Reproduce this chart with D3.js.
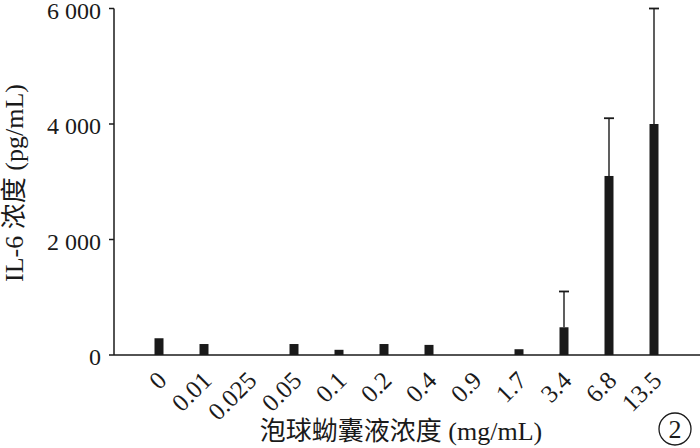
<!DOCTYPE html>
<html><head><meta charset="utf-8">
<script src="https://d3js.org/d3.v7.min.js"></script>
<style>body{margin:0;background:#fff}svg{display:block}</style>
</head><body>
<script>
const categories = ["0","0.01","0.025","0.05","0.1","0.2","0.4","0.9","1.7","3.4","6.8","13.5"];
const values = [290,190,0,190,90,190,175,0,100,480,3100,4000];
const errors = [0,0,0,0,0,0,0,0,0,620,1000,2000];
const yTicks = [0,2000,4000,6000];

const W=700,H=448;
const svg=d3.select("body").append("svg").attr("width",W).attr("height",H);
const x0=114, xEnd=700, y0=355, yTop=8.5;
const x=d3.scalePoint().domain(categories).range([159,654]);
const bw=9;
const y=d3.scaleLinear().domain([0,6000]).range([y0,yTop]);
const font="'Liberation Serif','Times New Roman','Noto Sans CJK SC',serif";
const ink="#1a1a1a";

// bars
svg.selectAll("rect.bar").data(categories).join("rect")
 .attr("x",d=>x(d)-bw/2).attr("width",bw)
 .attr("y",(d,i)=>y(values[i])).attr("height",(d,i)=>y0-y(values[i]))
 .attr("fill",ink);

// error bars
const eb=categories.map((c,i)=>({c,v:values[i],e:errors[i]})).filter(d=>d.e>0);
svg.selectAll("line.err").data(eb).join("line")
 .attr("x1",d=>x(d.c)).attr("x2",d=>x(d.c))
 .attr("y1",d=>y(d.v)).attr("y2",d=>y(d.v+d.e))
 .attr("stroke",ink).attr("stroke-width",1.4);
svg.selectAll("line.cap").data(eb).join("line")
 .attr("x1",d=>x(d.c)-5).attr("x2",d=>x(d.c)+5)
 .attr("y1",d=>y(d.v+d.e)).attr("y2",d=>y(d.v+d.e))
 .attr("stroke",ink).attr("stroke-width",1.8);

// axes lines
svg.append("line").attr("x1",x0).attr("x2",x0).attr("y1",yTop).attr("y2",y0).attr("stroke",ink).attr("stroke-width",1.5);
svg.append("line").attr("x1",x0).attr("x2",xEnd).attr("y1",y0).attr("y2",y0).attr("stroke",ink).attr("stroke-width",1.5);

// y ticks
svg.selectAll("line.yt").data(yTicks).join("line")
 .attr("x1",x0-5).attr("x2",x0).attr("y1",d=>y(d)).attr("y2",d=>y(d)).attr("stroke",ink).attr("stroke-width",1.5);
svg.selectAll("text.yl").data(yTicks).join("text")
 .attr("x",101).attr("y",d=>y(d)).attr("dy","0.42em").attr("text-anchor","end")
 .attr("font-family",font).attr("font-size",24).attr("fill",ink)
 .text(d=>d===0?"0":(d/1000)+" 000");

// x tick labels
svg.selectAll("text.xl").data(categories).join("text")
 .attr("transform",d=>`translate(${x(d)+9},${382}) rotate(-45)`)
 .attr("text-anchor","end")
 .attr("font-family",font).attr("font-size",25).attr("fill",ink)
 .text(d=>d);

// axis titles
svg.append("text").attr("transform","translate(23,183) rotate(-90)").attr("text-anchor","middle")
 .attr("font-family",font).attr("font-size",26).attr("fill",ink)
 .text("IL-6 浓度 (pg/mL)");
svg.append("text").attr("x",401).attr("y",440).attr("text-anchor","middle")
 .attr("font-family",font).attr("font-size",26).attr("fill",ink)
 .text("泡球蚴囊液浓度 (mg/mL)");

// circled 2
svg.append("circle").attr("cx",675).attr("cy",429).attr("r",16).attr("fill","none").attr("stroke",ink).attr("stroke-width",1.3);
svg.append("text").attr("x",675).attr("y",429).attr("dy","0.35em").attr("text-anchor","middle")
 .attr("font-family",font).attr("font-size",26).attr("fill",ink).text("2");
</script>
</body></html>
